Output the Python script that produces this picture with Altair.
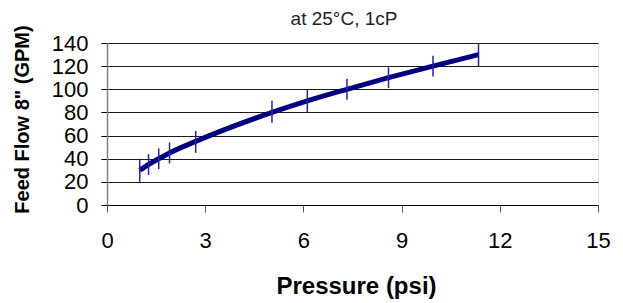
import altair as alt
import pandas as pd

# Data
pressure = [1.0, 1.27, 1.58, 1.91, 2.71, 5.04, 6.12, 7.33, 8.6, 9.96, 11.35]
flow = [30, 35, 40, 45, 55, 80, 90, 100, 110, 120, 130]
flow_low = [20, 26, 31, 36, 45, 71, 80, 91, 101, 111, 120]
flow_high = [40, 44, 49, 54, 64, 90, 100, 109, 119, 129, 140]
x_ticks = [0, 3, 6, 9, 12, 15]
y_ticks = [0, 20, 40, 60, 80, 100, 120, 140]
chart_title = "at 25°C, 1cP"

df = pd.DataFrame({"pressure": pressure, "flow": flow, "low": flow_low, "high": flow_high})

FONT = "Liberation Sans"
xs = alt.Scale(domain=[0, 15], nice=False, zero=False)
ys = alt.Scale(domain=[0, 140], nice=False)

x_axis = alt.Axis(
    values=x_ticks, title="Pressure (psi)", grid=False,
    domainColor="#000000", domainWidth=1, tickColor="#555555", tickSize=7,
    labelFontSize=22, labelFont=FONT, labelColor="#000000", labelPadding=18,
    labelFlush=False, labelOverlap=False,
    titleFontSize=24, titleFont=FONT, titleFontWeight="bold", titleColor="#000000",
    titleX=249, titleY=88, titleBaseline="alphabetic", titleAlign="center",
)
y_axis = alt.Axis(
    values=y_ticks, title='Feed Flow 8" (GPM)', grid=True,
    gridColor="#1a1a1a", gridWidth=1,
    domainColor="#808080", domainWidth=1.5, tickColor="#000000", tickSize=6,
    labelFontSize=22, labelFont=FONT, labelColor="#000000", labelPadding=13,
    labelFlush=False, labelOverlap=False,
    titleFontSize=20, titleFont=FONT, titleFontWeight="bold", titleColor="#000000",
    titleX=-85, titleY=76, titleAngle=-90, titleAlign="center", titleBaseline="middle",
)

bars = alt.Chart(df).mark_rule(color="#2323a0", strokeWidth=1.5).encode(
    x=alt.X("pressure:Q", scale=xs, axis=x_axis),
    y=alt.Y("low:Q", scale=ys, axis=y_axis),
    y2="high:Q",
)
line = alt.Chart(df).mark_line(color="#000080", strokeWidth=5, interpolate="monotone").encode(
    x=alt.X("pressure:Q", scale=xs, axis=x_axis),
    y=alt.Y("flow:Q", scale=ys, axis=y_axis),
)
title_text = alt.Chart(alt.Data(values=[{}])).mark_text(
    font=FONT, fontSize=19, color="#222222", align="center", baseline="alphabetic",
).encode(x=alt.value(237), y=alt.value(-18), text=alt.value(chart_title))

chart = alt.layer(line, bars, title_text).properties(
    width=491,
    height=162,
    autosize=alt.AutoSizeParams(type="none"),
    padding={"left": 99, "top": 35, "right": 17, "bottom": 94},
).configure_view(stroke="#000000", strokeWidth=1).configure(background="white")

chart.save("out.html", embed_options={"renderer": "svg", "actions": False})
